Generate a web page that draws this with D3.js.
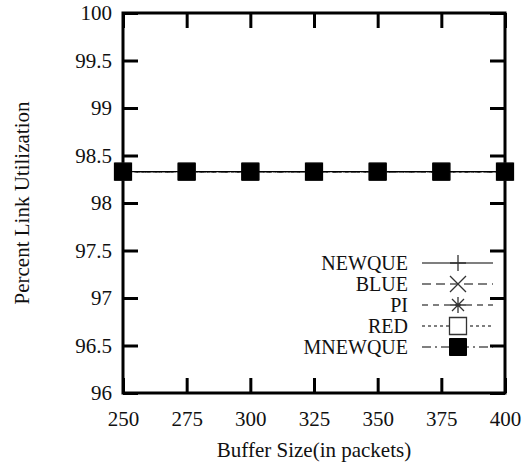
<!DOCTYPE html>
<html>
  <head>
    <script src="https://d3js.org/d3.v7.min.js"></script>
    <style>
      body { margin: 0; background: #fff; }
    </style>
  </head>
  <body>
    <svg width="532" height="466"></svg>
    <script>
      (function (d3) {
        'use strict';

        const bufferSizes = [250, 275, 300, 325, 350, 375, 400];
        const newqueValues = [98.33, 98.33, 98.33, 98.33, 98.33, 98.33, 98.33];
        const blueValues = [98.33, 98.33, 98.33, 98.33, 98.33, 98.33, 98.33];
        const piValues = [98.33, 98.33, 98.33, 98.33, 98.33, 98.33, 98.33];
        const redValues = [98.33, 98.33, 98.33, 98.33, 98.33, 98.33, 98.33];
        const mnewqueValues = [98.33, 98.33, 98.33, 98.33, 98.33, 98.33, 98.33];
        const yTicks = [96, 96.5, 97, 97.5, 98, 98.5, 99, 99.5, 100];

        const series = [
          { name: 'NEWQUE', values: newqueValues, dash: null, marker: 'plus' },
          { name: 'BLUE', values: blueValues, dash: '9,5', marker: 'cross' },
          { name: 'PI', values: piValues, dash: '6,5', marker: 'star' },
          { name: 'RED', values: redValues, dash: '3,3', marker: 'box' },
          { name: 'MNEWQUE', values: mnewqueValues, dash: '9,4,2,4', marker: 'square' },
        ];

        const font = "'Liberation Serif', 'Times New Roman', serif";
        const fontSize = '21px';

        const svg = d3.select('svg');
        const margin = { top: 13, right: 27, bottom: 73, left: 123 };
        const innerWidth = 532 - margin.left - margin.right;
        const innerHeight = 466 - margin.top - margin.bottom;

        const x = d3.scaleLinear().domain([250, 400]).range([0, innerWidth]);
        const y = d3.scaleLinear().domain([96, 100]).range([innerHeight, 0]);

        const g = svg.append('g')
          .attr('transform', `translate(${margin.left},${margin.top})`);

        const tickLen = 15;

        // axes with inward ticks (mirrored on top/right)
        const styleAxis = (sel) => {
          sel.select('.domain').remove();
          sel.attr('font-family', null).attr('font-size', null);
          sel.selectAll('.tick line').attr('stroke', '#000').attr('stroke-width', 3);
          sel.selectAll('.tick text')
            .style('font-family', font)
            .style('font-size', fontSize)
            .attr('fill', '#111');
        };

        g.append('g')
          .attr('transform', `translate(0,${innerHeight})`)
          .call(d3.axisBottom(x).tickValues(bufferSizes).tickSizeInner(-tickLen).tickSizeOuter(0).tickPadding(18))
          .call(styleAxis);

        g.append('g')
          .call(d3.axisTop(x).tickValues(bufferSizes).tickSizeInner(-tickLen).tickSizeOuter(0).tickFormat(''))
          .call(styleAxis);

        g.append('g')
          .call(d3.axisLeft(y).tickValues(yTicks).tickFormat(d3.format('')).tickSizeInner(-tickLen).tickSizeOuter(0).tickPadding(11))
          .call(styleAxis);

        g.append('g')
          .attr('transform', `translate(${innerWidth},0)`)
          .call(d3.axisRight(y).tickValues(yTicks).tickSizeInner(-tickLen).tickSizeOuter(0).tickFormat(''))
          .call(styleAxis);

        g.append('rect')
          .attr('width', innerWidth)
          .attr('height', innerHeight)
          .attr('fill', 'none')
          .attr('stroke', '#000')
          .attr('stroke-width', 3);

        const markerPath = (type, s) => {
          const h = s / 2;
          if (type === 'plus') return `M${-h},0H${h}M0,${-h}V${h}`;
          if (type === 'cross') return `M${-h},${-h}L${h},${h}M${-h},${h}L${h},${-h}`;
          if (type === 'star') return `M${-h},0H${h}M0,${-h}V${h}M${-h * 0.75},${-h * 0.75}L${h * 0.75},${h * 0.75}M${-h * 0.75},${h * 0.75}L${h * 0.75},${-h * 0.75}`;
          return `M${-h},${-h}H${h}V${h}H${-h}Z`;
        };

        const drawMarker = (sel, type, cx, cy) => {
          const size = type === 'square' || type === 'box' ? 17 : 16;
          sel.append('path')
            .attr('transform', `translate(${cx},${cy})`)
            .attr('d', markerPath(type, size))
            .attr('fill', type === 'square' ? '#000' : 'none')
            .attr('stroke', type === 'square' ? '#000' : '#333')
            .attr('stroke-width', type === 'square' ? 1 : 1.3);
        };

        const line = d3.line()
          .x((d, i) => x(bufferSizes[i]))
          .y((d) => y(d));

        series.forEach((s) => {
          const sg = g.append('g');
          sg.append('path')
            .attr('d', line(s.values))
            .attr('fill', 'none')
            .attr('stroke', '#000')
            .attr('stroke-width', 1.2)
            .attr('stroke-dasharray', s.dash);
          s.values.forEach((v, i) => drawMarker(sg, s.marker, x(bufferSizes[i]), y(v)));
        });

        // legend
        const legend = svg.append('g');
        series.forEach((s, i) => {
          const ly = 263 + i * 21;
          legend.append('text')
            .attr('x', 408)
            .attr('y', ly)
            .attr('dy', '0.35em')
            .attr('text-anchor', 'end')
            .style('font-family', font)
            .style('font-size', '20px')
            .attr('fill', '#111')
            .text(s.name);
          legend.append('line')
            .attr('x1', 422).attr('x2', 493)
            .attr('y1', ly).attr('y2', ly)
            .attr('stroke', '#000')
            .attr('stroke-width', 1.2)
            .attr('stroke-dasharray', s.dash);
          if (s.marker === 'box') {
            legend.append('rect')
              .attr('x', 450).attr('y', ly - 8.5)
              .attr('width', 17).attr('height', 17)
              .attr('fill', '#fff');
          }
          drawMarker(legend, s.marker, 458, ly);
        });

        svg.append('text')
          .attr('x', margin.left + innerWidth / 2)
          .attr('y', 450)
          .attr('dy', '0.35em')
          .attr('text-anchor', 'middle')
          .style('font-family', font)
          .style('font-size', fontSize)
          .attr('fill', '#111')
          .text('Buffer Size(in packets)');

        svg.append('text')
          .attr('transform', `translate(22,${margin.top + innerHeight / 2}) rotate(-90)`)
          .attr('dy', '0.35em')
          .attr('text-anchor', 'middle')
          .style('font-family', font)
          .style('font-size', fontSize)
          .attr('fill', '#111')
          .text('Percent Link Utilization');
      })(d3);
    </script>
  </body>
</html>
